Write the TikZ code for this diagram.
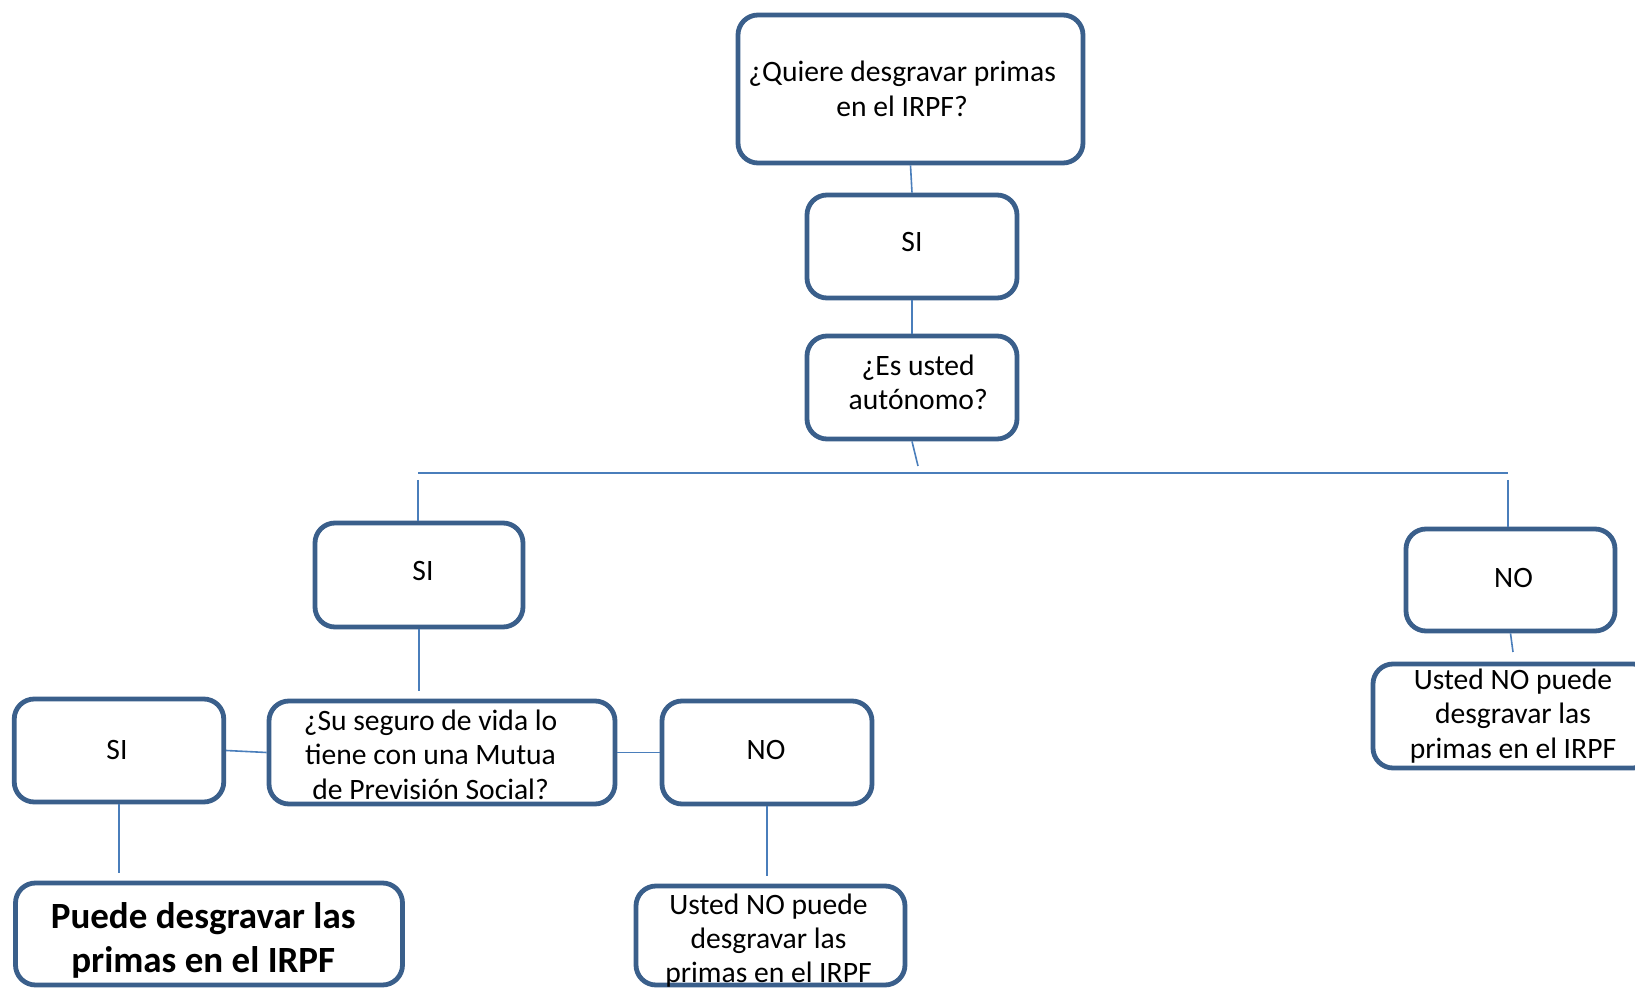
\documentclass[tikz,border=0pt]{standalone}
\usepackage{fontspec}
\setmainfont{Carlito}
\definecolor{boxblue}{HTML}{3A5F8B}
\definecolor{lineblue}{HTML}{4A7EBB}
\begin{document}
\begin{tikzpicture}[x=0.5pt,y=-0.5pt,
  box/.style={draw=boxblue, line width=2.4pt, rounded corners=10pt, fill=white, inner sep=0pt},
  txt/.style={inner sep=0pt, align=center, font=\fontsize{14.8}{17.2}\selectfont},
  bigtxt/.style={inner sep=0pt, align=center, font=\fontsize{18.5}{22}\selectfont\bfseries},
  conn/.style={draw=lineblue, line width=0.8pt}]
\clip (0,0) rectangle (1635,988);
\fill[white] (0,0) rectangle (1635,988);
% boxes
\node[box, minimum width=172.5pt, minimum height=74pt] (top) at (910.5,89) {};
\node[box, minimum width=105pt, minimum height=51.5pt] (si1) at (912,246.5) {};
\node[box, minimum width=105pt, minimum height=51.5pt] (es) at (912,387.5) {};
\node[box, minimum width=104pt, minimum height=52pt] (si2) at (419,575) {};
\node[box, minimum width=104.5pt, minimum height=51pt] (nor) at (1510.5,580) {};
\node[box, minimum width=140pt, minimum height=52pt] (usr) at (1513,716) {};
\node[box, minimum width=173pt, minimum height=51.5pt] (su) at (442,752.5) {};
\node[box, minimum width=104.75pt, minimum height=51.5pt] (sil) at (119,750.5) {};
\node[box, minimum width=105pt, minimum height=51.5pt] (nom) at (767,752.5) {};
\node[box, minimum width=193.5pt, minimum height=51pt] (pue) at (209,934) {};
\node[box, minimum width=134.5pt, minimum height=49.5pt] (usm) at (770.5,935.5) {};
% texts
\node[txt, xshift=-4.2pt] (topt) at (top) {¿Quiere desgravar primas\\en el IRPF?};
\node[txt, yshift=2pt] (si1t) at (si1) {SI};
\node[txt, xshift=3.1pt, yshift=2.6pt] (est) at (es) {¿Es usted\\autónomo?};
\node[txt, xshift=2pt, yshift=2pt] (si2t) at (si2) {SI};
\node[txt, xshift=1.5pt, yshift=1pt] (nort) at (nor) {NO};
\node[txt] (usrt) at (usr) {Usted NO puede\\desgravar las\\primas en el IRPF};
\node[txt, xshift=-5.7pt, yshift=-1pt] (sut) at (su) {¿Su seguro de vida lo\\tiene con una Mutua\\de Previsión Social?};
\node[txt, xshift=-1pt, yshift=0.5pt] (silt) at (sil) {SI};
\node[txt, xshift=-0.5pt, yshift=1.5pt] (nomt) at (nom) {NO};
\node[bigtxt, xshift=-2.9pt, yshift=-3pt] (puet) at (pue) {Puede desgravar las\\primas en el IRPF};
\node[txt, xshift=-1pt, yshift=-2.6pt] (usmt) at (usm) {Usted NO puede\\desgravar las\\primas en el IRPF};
% connectors
\coordinate (esend) at (918,466);
\coordinate (hl) at (418,473);
\coordinate (hr) at (1508,473);
\coordinate (vl) at (418,480);
\coordinate (vr) at (1508,480);
\coordinate (norend) at (1513,652);
\draw[conn] (top.south) -- (si1.north);
\draw[conn] (si1.south) -- (es.north);
\draw[conn] (es.south) -- (esend);
\draw[conn] (hl) -- (hr);
\draw[conn] (vl) -- (vl |- si2.north);
\draw[conn] (vr) -- (vr |- nor.north);
\draw[conn] (nor.south) -- (norend);
\draw[conn, shorten >=4pt] (si2.south) -- (si2.south |- su.north);
\draw[conn] (sil.east) -- (su.west);
\draw[conn] (su.east) -- (nom.west);
\draw[conn, shorten >=4pt] (sil.south) -- (sil.south |- pue.north);
\draw[conn, shorten >=4pt] (nom.south) -- (nom.south |- usm.north);
\end{tikzpicture}
\end{document}
